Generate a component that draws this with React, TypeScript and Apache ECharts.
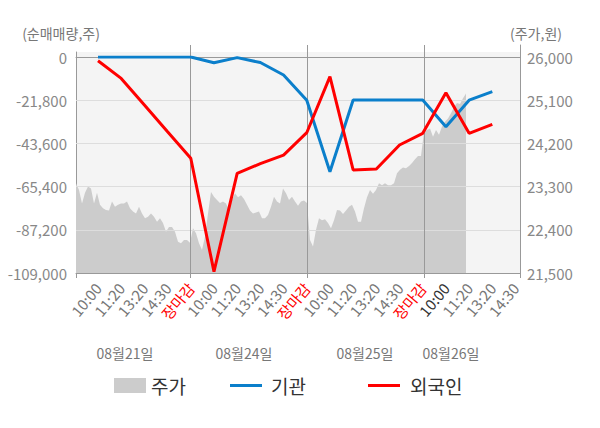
import React, { useEffect, useRef } from "react";
import * as echarts from "echarts";

// x-axis labels of the net-trading lines
const timeLabels = [
  "10:00", "11:20", "13:20", "14:30", "장마감",
  "10:00", "11:20", "13:20", "14:30", "장마감",
  "10:00", "11:20", "13:20", "14:30", "장마감",
  "10:00", "11:20", "13:20", "14:30",
];
// 기관 net volume (shares)
const institution = [0, 0, 0, 0, 0, -2900, -300, -2800, -9100, -21800, -57900, -21700, -21700, -21700, -21700, -35200, -21800, -17500];
// 외국인 net volume (shares)
const foreign = [-1900, -10800, -24200, -37700, -51100, -108300, -58700, -53800, -49500, -38200, -9900, -57000, -56500, -44400, -38500, -18000, -38500, -34000];

const dayLabels = ["08월21일", "08월24일", "08월25일", "08월26일"];

// intraday price (원), per day
const priceDay1 = [23370, 23230, 22950, 23170, 23300, 23260, 22950, 23170, 22920, 22850, 22810, 22800, 22990, 22880, 22920, 22950, 22950, 22990, 22850, 22780, 22740, 22880, 22740, 22640, 22670, 22740, 22670, 22570, 22640, 22540, 22360, 22460, 22460, 22360, 22150, 22120, 22190, 22190, 22130];
const priceDay2 = [22430, 22330, 22120, 21980, 22260, 22740, 23190, 23090, 23020, 22960, 22990, 22950, 22810, 23020, 23160, 23080, 23120, 23040, 22920, 22800, 22740, 22760, 22780, 22640, 22640, 22710, 22880, 23090, 22990, 22950, 23260, 23160, 23020, 23090, 22990, 22900, 22990, 23010, 22960];
const priceDay3 = [22190, 22050, 22400, 22640, 22600, 22620, 22540, 22430, 22600, 22810, 22800, 22730, 22800, 22880, 22920, 22780, 22570, 22570, 22850, 23080, 23230, 23150, 23230, 23370, 23330, 23370, 23330, 23330, 23370, 23580, 23650, 23700, 23680, 23730, 23790, 23870, 23940, 23940];
const priceDay4 = [24440, 24480, 24510, 24340, 24480, 24380, 24550, 24650, 24720, 24830, 24960, 25040, 25020, 25140, 25240];

// price time slots: 4 sessions, breaks where a new session starts
const SLOT_COUNT = 149;
const dayBreaks = [38, 77, 116];

const volMin = -109000, volMax = 0, volStep = 21800;
const priceMin = 21500, priceMax = 26000, priceStep = 900;

const BLUE = "#0b7fcb";
const RED = "#ff0000";
const GRAY = "#cccccc";
const AXIS = "#999999";
const FONT = "'Noto Sans CJK KR', 'Noto Sans', sans-serif";

const fmt = (v: number) => Number(v).toLocaleString("en-US");

export default function App() {
  const ref = useRef<HTMLDivElement>(null);
  useEffect(() => {
    if (!ref.current) return;
    const chart = echarts.init(ref.current, undefined, { renderer: "svg" });
    const slots = Array.from({ length: SLOT_COUNT }, (_, i) => String(i));
    const priceData = [...priceDay1, ...priceDay2, ...priceDay3, ...priceDay4];
    const L = 76, R = 80, B = 155;

    const option: any = {
      animation: false,
      backgroundColor: "#ffffff",
      textStyle: { fontFamily: FONT },
      grid: [
        { left: L, right: R, top: 52, bottom: B, show: true, backgroundColor: "#f4f4f4", borderWidth: 0 },
        { left: L, right: R, top: 45, bottom: B },
        { left: L, right: R, top: 57, bottom: B },
        { left: 98, right: 84.5, top: 57, bottom: B },
      ],
      xAxis: [
        { gridIndex: 0, type: "category", data: slots, show: false },
        {
          gridIndex: 1, type: "category", data: slots, boundaryGap: false, z: 4,
          axisLine: { show: false }, axisTick: { show: false }, axisLabel: { show: false },
          splitLine: { show: true, interval: (i: number) => dayBreaks.includes(i), lineStyle: { color: AXIS, width: 1 } },
        },
        {
          gridIndex: 2, type: "category", data: slots, boundaryGap: false, z: 4,
          axisLine: { show: true, onZero: false, lineStyle: { color: AXIS } },
          axisTick: {
            show: true, length: 5, lineStyle: { color: AXIS },
            interval: (i: number) => i === 0 || i === SLOT_COUNT - 1 || dayBreaks.includes(i),
          },
          axisLabel: { show: false }, splitLine: { show: false },
        },
        {
          gridIndex: 2, type: "category", data: slots, boundaryGap: false, position: "top", z: 4,
          axisLine: { show: true, onZero: false, lineStyle: { color: AXIS } },
          axisTick: { show: false }, axisLabel: { show: false }, splitLine: { show: false },
        },
        {
          gridIndex: 3, type: "category", data: timeLabels, boundaryGap: false,
          axisLine: { show: false, onZero: false }, axisTick: { show: false }, splitLine: { show: false },
          axisLabel: {
            interval: 0, rotate: 50, margin: 12, fontSize: 15, fontFamily: FONT,
            color: (v: string, i: number) => (v === "장마감" ? RED : i === 15 ? "#333333" : "#777777"),
          },
        },
      ],
      yAxis: [
        {
          gridIndex: 0, type: "value", axisLine: { show: true, lineStyle: { color: AXIS } },
          axisLabel: { show: false }, axisTick: { show: false }, splitLine: { show: false },
        },
        {
          gridIndex: 1, type: "value", position: "right", axisLine: { show: true, lineStyle: { color: AXIS } },
          axisLabel: { show: false }, axisTick: { show: false }, splitLine: { show: false },
        },
        {
          gridIndex: 2, type: "value", min: volMin, max: volMax, interval: volStep, z: 3,
          axisLine: { show: false }, axisTick: { show: false },
          axisLabel: { color: "#888888", fontSize: 15, margin: 9, fontFamily: FONT, formatter: fmt, padding: [0, 0, 3, 0] },
          splitLine: { show: true, lineStyle: { color: "#dddddd", width: 1 } },
        },
        {
          gridIndex: 2, type: "value", position: "right", min: priceMin, max: priceMax, interval: priceStep,
          axisLine: { show: false }, axisTick: { show: false },
          axisLabel: { color: "#888888", fontSize: 15, margin: 7, fontFamily: FONT, formatter: fmt, padding: [0, 0, 3, 0] },
          splitLine: { show: false },
        },
        { gridIndex: 3, type: "value", min: volMin, max: volMax, show: false, splitLine: { show: false } },
      ],
      legend: [
        {
          data: ["주가"], left: 114, top: 376, padding: 0, icon: "rect", itemWidth: 32, itemHeight: 15,
          selectedMode: false, itemStyle: { borderWidth: 0 },
          textStyle: { fontSize: 19, color: "#333333", fontFamily: FONT },
        },
        {
          data: ["기관"], left: 230, top: 376, padding: 0, icon: "rect", itemWidth: 32, itemHeight: 3,
          selectedMode: false, itemStyle: { borderWidth: 0 },
          textStyle: { fontSize: 19, color: "#333333", fontFamily: FONT, padding: [0, 0, 0, 4] },
        },
        {
          data: ["외국인"], left: 368, top: 376, padding: 0, icon: "rect", itemWidth: 32, itemHeight: 3,
          selectedMode: false, itemStyle: { borderWidth: 0 },
          textStyle: { fontSize: 19, color: "#333333", fontFamily: FONT, padding: [0, 0, 0, 5] },
        },
      ],
      graphic: [
        { type: "text", x: 61, y: 33, style: { text: "(순매매량,주)", fill: "#777777", font: `14px ${FONT}`, align: "center", verticalAlign: "middle" } },
        { type: "text", x: 536, y: 33, style: { text: "(주가,원)", fill: "#777777", font: `14px ${FONT}`, align: "center", verticalAlign: "middle" } },
        ...dayLabels.map((t, i) => ({
          type: "text", x: [125, 244, 365, 451][i], y: 353,
          style: { text: t, fill: "#777777", font: `14px ${FONT}`, align: "center", verticalAlign: "middle" },
        })),
      ],
      series: [
        {
          name: "주가", type: "line", xAxisIndex: 2, yAxisIndex: 3, data: priceData, symbol: "none", z: 2,
          lineStyle: { width: 0, color: GRAY }, itemStyle: { color: GRAY },
          areaStyle: { color: GRAY, opacity: 1, origin: "start" },
        },
        {
          name: "기관", type: "line", xAxisIndex: 4, yAxisIndex: 4, data: institution, symbol: "none", z: 5,
          lineStyle: { width: 3, color: BLUE }, itemStyle: { color: BLUE },
        },
        {
          name: "외국인", type: "line", xAxisIndex: 4, yAxisIndex: 4, data: foreign, symbol: "none", z: 6,
          lineStyle: { width: 3, color: RED }, itemStyle: { color: RED },
        },
      ],
    };
    chart.setOption(option);
    return () => chart.dispose();
  }, []);
  return <div ref={ref} style={{ position: "fixed", left: 0, top: 0, width: 600, height: 428 }} />;
}
